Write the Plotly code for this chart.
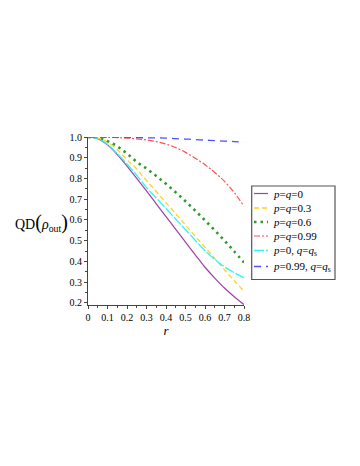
import plotly.graph_objects as go

# sample points along r
r_vals = [0, 0.05, 0.1, 0.15, 0.2, 0.25, 0.3, 0.35, 0.4, 0.45, 0.5, 0.55, 0.6, 0.65, 0.7, 0.75, 0.8]

qd_pq0 = [1.0, 0.992, 0.962, 0.915, 0.86, 0.80, 0.74, 0.678, 0.616, 0.555, 0.493, 0.432, 0.372, 0.32, 0.272, 0.23, 0.192]
qd_pq03 = [1.0, 0.995, 0.975, 0.94, 0.89, 0.845, 0.79, 0.737, 0.683, 0.63, 0.576, 0.522, 0.468, 0.415, 0.36, 0.307, 0.256]
qd_pq06 = [1.0, 0.996, 0.98, 0.955, 0.92, 0.88, 0.848, 0.812, 0.774, 0.733, 0.69, 0.645, 0.598, 0.55, 0.50, 0.448, 0.395]
qd_pq099 = [1.0, 1.0, 0.999, 0.997, 0.995, 0.991, 0.986, 0.978, 0.966, 0.949, 0.926, 0.898, 0.866, 0.829, 0.786, 0.732, 0.666]
qd_p0_qs = [1.0, 0.993, 0.965, 0.92, 0.87, 0.815, 0.756, 0.706, 0.655, 0.604, 0.553, 0.502, 0.452, 0.41, 0.374, 0.346, 0.322]
qd_p099_qs = [1.0, 1.0, 0.999, 0.999, 0.998, 0.997, 0.996, 0.996, 0.995, 0.992, 0.99, 0.988, 0.985, 0.983, 0.98, 0.978, 0.975]

names = ["<i>p</i>=<i>q</i>=0", "<i>p</i>=<i>q</i>=0.3", "<i>p</i>=<i>q</i>=0.6",
         "<i>p</i>=<i>q</i>=0.99", "<i>p</i>=0, <i>q</i>=<i>q</i><sub>s</sub>",
         "<i>p</i>=0.99, <i>q</i>=<i>q</i><sub>s</sub>"]
series = [qd_pq0, qd_pq03, qd_pq06, qd_pq099, qd_p0_qs, qd_p099_qs]

colors = ["#a040a8", "#ffd21a", "#2f9a2f", "#ff5050", "#30f4f4", "#5050ff"]
dashes = ["solid", "5px,3px", "2.5px,4px", "6px,2px,2px,2px", "10px,2px", "7px,5px"]
widths = [1.2, 1.3, 2.6, 1.2, 1.3, 1.3]

SERIF = "Liberation Serif"

fig = go.Figure()
for nm, ys, c, d, w in zip(names, series, colors, dashes, widths):
    fig.add_trace(go.Scatter(x=r_vals, y=ys, mode="lines", name=nm, showlegend=False,
                             line=dict(color=c, dash=d, width=w, shape="spline")))

# the page body adds an 8px offset, so the figure is laid out 8px up/left
OFF = 8
L, W, T, H = 88 - OFF, 156, 137 - OFF, 168
FW, FH = 360, 466


def px(x):
    return (x - OFF - L) / W


def py(y):
    return (T + H - (y - OFF)) / H


shapes = [dict(type="rect", xref="paper", yref="paper", x0=px(251.7), x1=px(335),
               y0=py(279.5), y1=py(186), line=dict(color="#555555", width=1.2),
               fillcolor="white")]
annotations = []
row_y = [193.5, 208, 222, 236, 250.5, 266.5]
for i, nm in enumerate(names):
    yy = row_y[i]
    shapes.append(dict(type="line", xref="paper", yref="paper", x0=px(254), x1=px(268),
                       y0=py(yy), y1=py(yy),
                       line=dict(color=colors[i], dash=dashes[i], width=widths[i])))
    annotations.append(dict(text=nm, xref="paper", yref="paper", x=px(271), y=py(yy),
                            xanchor="left", yanchor="middle", showarrow=False,
                            font=dict(family=SERIF, size=11, color="black")))

annotations.append(dict(text="QD<span style='font-size:20px'>(</span><i>ρ</i><sub>out</sub><span style='font-size:20px'>)</span>",
                        xref="paper", yref="paper", x=px(41), y=py(222), xanchor="center",
                        yanchor="middle", showarrow=False,
                        font=dict(family=SERIF, size=14, color="black")))

fig.update_layout(
    width=FW, height=FH,
    margin=dict(l=L, r=FW - L - W, t=T, b=FH - T - H),
    paper_bgcolor="white", plot_bgcolor="white",
    font=dict(family=SERIF, size=10, color="black"),
    shapes=shapes, annotations=annotations,
    xaxis=dict(range=[0, 0.8], tickvals=[0, 0.1, 0.2, 0.3, 0.4, 0.5, 0.6, 0.7, 0.8],
               ticktext=["0", "0.1", "0.2", "0.3", "0.4", "0.5", "0.6", "0.7", "0.8"],
               showgrid=False, zeroline=False, showline=True, linecolor="#444444", linewidth=1,
               ticks="outside", ticklen=3, tickcolor="#444444",
               minor=dict(dtick=0.05, ticks="outside", ticklen=2, tickcolor="#444444", showgrid=False),
               title=dict(text="<i>r</i>", font=dict(family=SERIF, size=13), standoff=2)),
    yaxis=dict(range=[0.19, 1.0], tickvals=[0.2, 0.3, 0.4, 0.5, 0.6, 0.7, 0.8, 0.9, 1.0],
               ticktext=["0.2", "0.3", "0.4", "0.5", "0.6", "0.7", "0.8", "0.9", "1.0"],
               showgrid=False, zeroline=False, showline=True, linecolor="#444444", linewidth=1,
               ticks="outside", ticklen=3, tickcolor="#444444",
               minor=dict(dtick=0.05, ticks="outside", ticklen=2, tickcolor="#444444", showgrid=False)),
)

fig.write_html("out.html")
